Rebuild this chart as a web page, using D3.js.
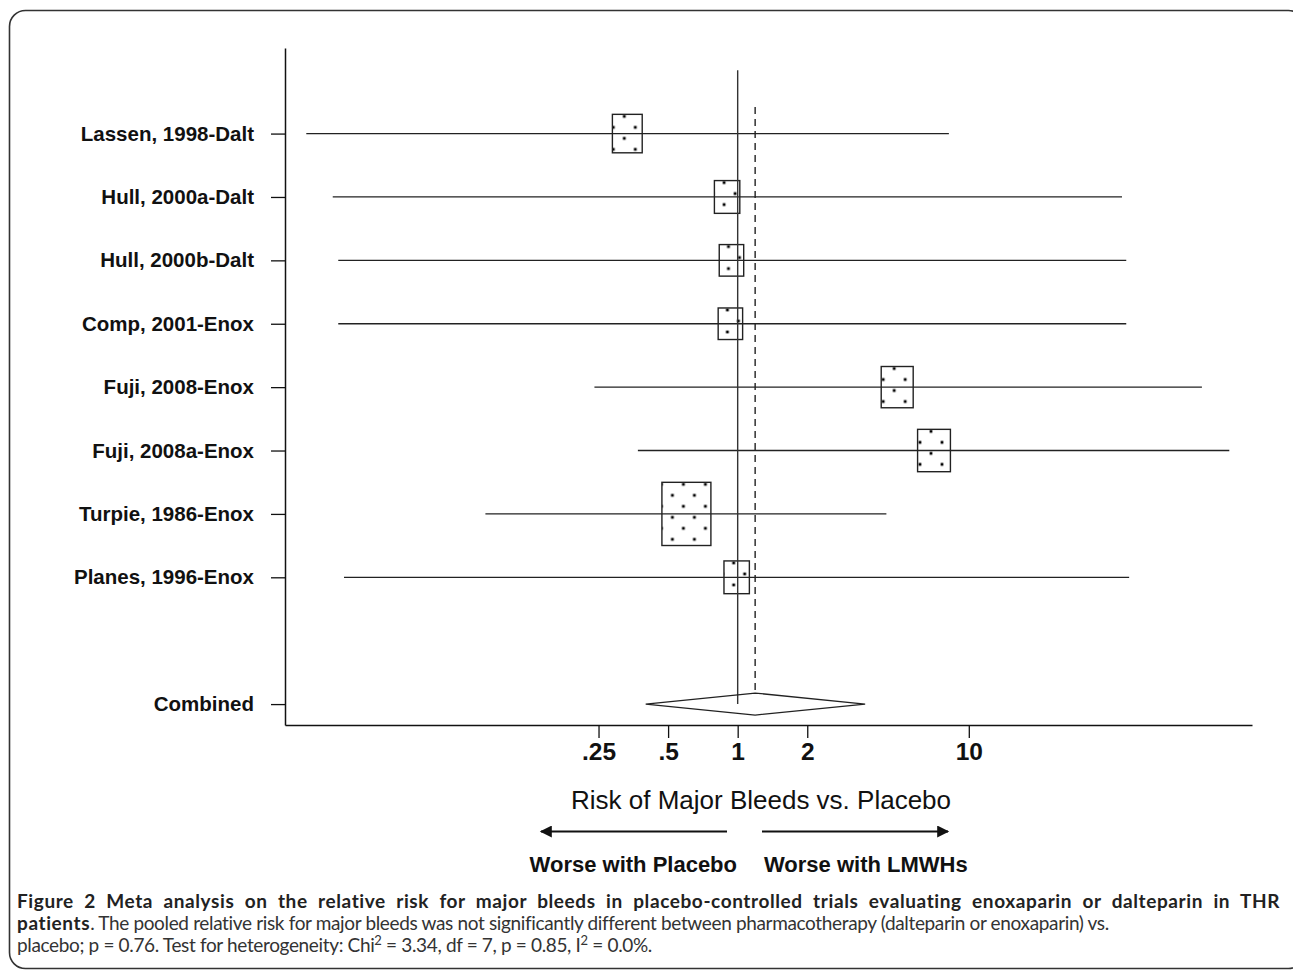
<!DOCTYPE html>
<html>
<head>
  <meta charset="utf-8">
  <title>Meta analysis - major bleeds</title>
  <script src="https://d3js.org/d3.v7.min.js"></script>
  <style>
    body { margin: 0; background: #fff; }
    svg { display: block; }
  </style>
</head>
<body>
  <div id="chart"></div>

  <script>
    // study data
    var studies = ['Lassen, 1998-Dalt', 'Hull, 2000a-Dalt', 'Hull, 2000b-Dalt', 'Comp, 2001-Enox',
                   'Fuji, 2008-Enox', 'Fuji, 2008a-Enox', 'Turpie, 1986-Enox', 'Planes, 1996-Enox'];
    var riskRatio = [0.333, 0.90, 0.94, 0.93, 4.9, 7.07, 0.60, 0.99];
    var ciLow = [0.0136, 0.0177, 0.0187, 0.0187, 0.24, 0.37, 0.081, 0.0198];
    var ciHigh = [8.2, 46, 48, 48, 102, 134, 4.4, 49.4];
    var weights = [11.3, 8.2, 7.6, 7.6, 13.0, 13.7, 30.5, 8.2];

    var pooledLabel = 'Combined';
    var pooledRR = 1.19;
    var pooledCI = [0.40, 3.56];

    var tickValues = [0.25, 0.5, 1, 2, 10];
    var tickLabels = ['.25', '.5', '1', '2', '10'];

    var width = 1293, height = 971;
    var labelFont = '"Liberation Sans", Arial, sans-serif';
    var captionFont = 'Lato, "Open Sans", sans-serif';

    var svg = d3.select('#chart').append('svg')
      .attr('width', width)
      .attr('height', height);

    // rounded frame around figure
    svg.append('rect')
      .attr('x', 9.5).attr('y', 10.5)
      .attr('width', 1295).attr('height', 958)
      .attr('rx', 16).attr('ry', 16)
      .attr('fill', 'none')
      .attr('stroke', '#333')
      .attr('stroke-width', 1.6);

    var x = d3.scaleLog()
      .domain([0.011, 168])
      .range([285, 1252]);

    // rows 1..8 are studies, row 10 is the pooled estimate
    var y = d3.scaleLinear()
      .domain([-0.35, 10.33])
      .range([48, 725]);

    var rows = studies.map(function(d, i) { return i + 1; });
    var pooledRow = 10;
    var rowLabels = {};
    studies.forEach(function(s, i) { rowLabels[i + 1] = s; });
    rowLabels[pooledRow] = pooledLabel;

    var plot = svg.append('g');

    // y axis with study labels
    var yAxis = plot.append('g')
      .attr('transform', 'translate(' + x.range()[0] + ',0)')
      .call(d3.axisLeft(y)
        .tickValues(rows.concat([pooledRow]))
        .tickSize(14)
        .tickSizeOuter(0)
        .tickPadding(17)
        .tickFormat(function(d) { return rowLabels[d]; }));
    yAxis.select('.domain').attr('stroke', '#111').attr('stroke-width', 1.5);
    yAxis.selectAll('.tick line').attr('stroke', '#111').attr('stroke-width', 1.3);
    yAxis.selectAll('text')
      .attr('font-family', labelFont)
      .attr('font-weight', 'bold')
      .attr('font-size', '20.5px')
      .attr('fill', '#111');

    // x axis, log scale
    var xAxis = plot.append('g')
      .attr('transform', 'translate(0,' + y.range()[1] + ')')
      .call(d3.axisBottom(x)
        .tickValues(tickValues)
        .tickSize(13)
        .tickSizeOuter(0)
        .tickPadding(5)
        .tickFormat(function(d, i) { return tickLabels[i]; }));
    xAxis.select('.domain').attr('stroke', '#111').attr('stroke-width', 1.5);
    xAxis.selectAll('.tick line').attr('stroke', '#111').attr('stroke-width', 1.3);
    xAxis.selectAll('text')
      .attr('font-family', labelFont)
      .attr('font-weight', 'bold')
      .attr('font-size', '24.5px')
      .attr('fill', '#111');

    // dotted fill for the weight boxes, one pattern per box
    var defs = svg.append('defs');
    var boxW = function(w) { return 8.87 * Math.sqrt(w); };
    var boxH = function(w) { return boxW(w) * 1.29; };
    var dot = 2.8;

    studies.forEach(function(s, i) {
      var cx = x(riskRatio[i]);
      var top = y(i + 1) - boxH(weights[i]) / 2;
      var pat = defs.append('pattern')
        .attr('id', 'dots' + i)
        .attr('patternUnits', 'userSpaceOnUse')
        .attr('x', cx - 14).attr('y', top)
        .attr('width', 22).attr('height', 22);
      [[9.6, 0.6], [-1.4, 11.6], [20.6, 11.6]].forEach(function(p) {
        pat.append('rect')
          .attr('x', p[0]).attr('y', p[1])
          .attr('width', dot).attr('height', dot)
          .attr('fill', '#000');
      });
    });

    plot.selectAll('.box')
      .data(studies)
      .enter()
      .append('rect')
      .attr('class', 'box')
      .attr('x', function(d, i) { return x(riskRatio[i]) - boxW(weights[i]) / 2; })
      .attr('y', function(d, i) { return y(i + 1) - boxH(weights[i]) / 2; })
      .attr('width', function(d, i) { return boxW(weights[i]); })
      .attr('height', function(d, i) { return boxH(weights[i]); })
      .attr('fill', function(d, i) { return 'url(#dots' + i + ')'; })
      .attr('stroke', '#222')
      .attr('stroke-width', 1.4);

    // confidence interval lines
    plot.selectAll('.ci')
      .data(studies)
      .enter()
      .append('line')
      .attr('class', 'ci')
      .attr('x1', function(d, i) { return x(ciLow[i]); })
      .attr('x2', function(d, i) { return x(ciHigh[i]); })
      .attr('y1', function(d, i) { return y(i + 1); })
      .attr('y2', function(d, i) { return y(i + 1); })
      .attr('stroke', '#222')
      .attr('stroke-width', 1.3);

    // line of no effect
    plot.append('line')
      .attr('x1', x(1)).attr('x2', x(1))
      .attr('y1', y(0)).attr('y2', y(pooledRow))
      .attr('stroke', '#333')
      .attr('stroke-width', 1.4);

    // pooled estimate diamond and dashed line
    var dh = 11;
    plot.append('line')
      .attr('x1', x(pooledRR)).attr('x2', x(pooledRR))
      .attr('y1', y(0.58)).attr('y2', y(pooledRow) - dh)
      .attr('stroke', '#222')
      .attr('stroke-width', 1.4)
      .attr('stroke-dasharray', '7,5');

    plot.append('path')
      .attr('d', 'M' + x(pooledCI[0]) + ',' + y(pooledRow) +
                 'L' + x(pooledRR) + ',' + (y(pooledRow) - dh) +
                 'L' + x(pooledCI[1]) + ',' + y(pooledRow) +
                 'L' + x(pooledRR) + ',' + (y(pooledRow) + dh) + 'Z')
      .attr('fill', 'none')
      .attr('stroke', '#222')
      .attr('stroke-width', 1.3);

    // axis title and direction arrows
    svg.append('text')
      .attr('x', 761)
      .attr('y', 809)
      .attr('text-anchor', 'middle')
      .attr('font-family', labelFont)
      .attr('font-size', '26px')
      .attr('fill', '#111')
      .text('Risk of Major Bleeds vs. Placebo');

    defs.append('marker')
      .attr('id', 'arrow')
      .attr('viewBox', '0 0 10 10')
      .attr('refX', 9).attr('refY', 5)
      .attr('markerWidth', 7).attr('markerHeight', 6)
      .attr('markerUnits', 'strokeWidth')
      .attr('orient', 'auto')
      .append('path')
      .attr('d', 'M0,0L10,5L0,10Z')
      .attr('fill', '#111');

    var arrowY = 831.5;
    svg.append('line')
      .attr('x1', 727).attr('x2', 541)
      .attr('y1', arrowY).attr('y2', arrowY)
      .attr('stroke', '#111').attr('stroke-width', 2)
      .attr('marker-end', 'url(#arrow)');
    svg.append('line')
      .attr('x1', 762).attr('x2', 948)
      .attr('y1', arrowY).attr('y2', arrowY)
      .attr('stroke', '#111').attr('stroke-width', 2)
      .attr('marker-end', 'url(#arrow)');

    svg.append('text')
      .attr('x', 737).attr('y', 872)
      .attr('text-anchor', 'end')
      .attr('font-family', labelFont)
      .attr('font-weight', 'bold')
      .attr('font-size', '22px')
      .attr('fill', '#111')
      .text('Worse with Placebo');
    svg.append('text')
      .attr('x', 764).attr('y', 872)
      .attr('font-family', labelFont)
      .attr('font-weight', 'bold')
      .attr('font-size', '22px')
      .attr('fill', '#111')
      .text('Worse with LMWHs');

    // caption below the figure
    var cap = svg.append('g')
      .attr('font-family', captionFont)
      .attr('font-size', '19px')
      .attr('letter-spacing', '-0.35px')
      .attr('fill', '#333');

    var line1 = cap.append('text')
      .attr('x', 17).attr('y', 908)
      .attr('font-weight', 'bold')
      .attr('letter-spacing', '0.6px')
      .attr('fill', '#222')
      .text('Figure 2 Meta analysis on the relative risk for major bleeds in placebo-controlled trials evaluating enoxaparin or dalteparin in THR');
    // justify the first line by widening the word gaps
    var natural = line1.node().getComputedTextLength();
    var gaps = line1.text().split(' ').length - 1;
    line1.attr('word-spacing', Math.max(0, (1263 - natural) / gaps));

    var line2 = cap.append('text').attr('x', 17).attr('y', 930);
    line2.append('tspan').attr('font-weight', 'bold').attr('letter-spacing', '0.6px').attr('fill', '#222').text('patients');
    line2.append('tspan').text('. The pooled relative risk for major bleeds was not significantly different between pharmacotherapy (dalteparin or enoxaparin) vs.');

    var line3 = cap.append('text').attr('x', 17).attr('y', 952);
    line3.append('tspan').text('placebo; p = 0.76. Test for heterogeneity: Chi');
    line3.append('tspan').attr('dy', -7).attr('font-size', '13px').text('2');
    line3.append('tspan').attr('dy', 7).text(' = 3.34, df = 7, p = 0.85, I');
    line3.append('tspan').attr('dy', -7).attr('font-size', '13px').text('2');
    line3.append('tspan').attr('dy', 7).text(' = 0.0%.');
  </script>
</body>
</html>
